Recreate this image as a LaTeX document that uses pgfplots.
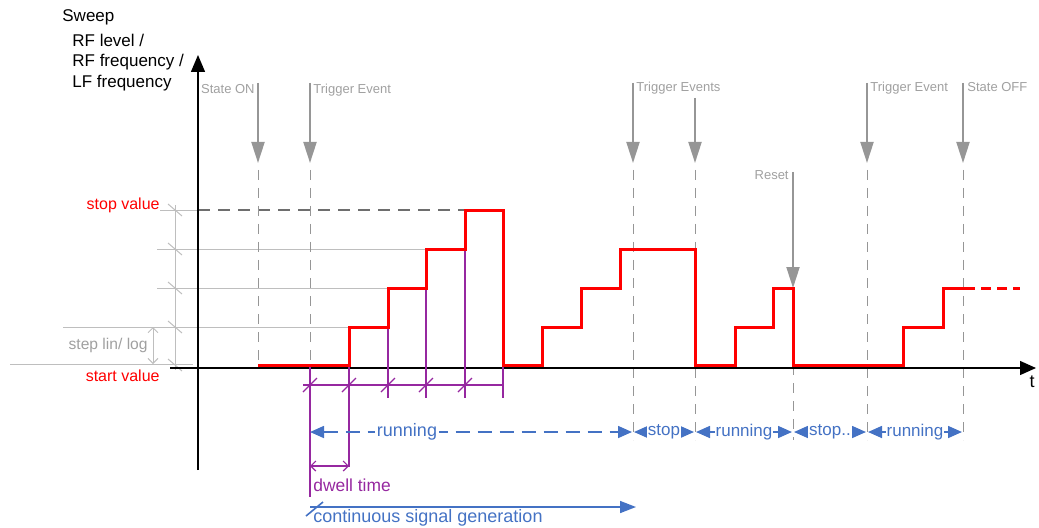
\documentclass[border=0pt]{standalone}
\usepackage{pgfplots}
\pgfplotsset{compat=1.18}
\usepackage{fontspec}
\setmainfont{Liberation Sans}
\usetikzlibrary{arrows.meta}
\definecolor{sigred}{RGB}{255,0,0}
\definecolor{trig}{RGB}{150,150,150}
\definecolor{trigtext}{RGB}{160,160,160}
\definecolor{guide}{RGB}{190,190,190}
\definecolor{dimgray}{RGB}{110,110,110}
\definecolor{runblue}{RGB}{68,114,196}
\definecolor{dwell}{RGB}{150,40,160}

\begin{document}
\begin{tikzpicture}
\begin{axis}[
  width=519.5pt, height=263.5pt, scale only axis,
  xmin=0, xmax=1039, ymin=0, ymax=527, y dir=reverse,
  hide axis, clip=false,
  trigarrow/.style={trig, line width=1pt, -{Triangle[length=10.5pt,width=6.5pt]}},
  trigline/.style={trig, line width=0.5pt, dash pattern=on 5pt off 4pt},
  guideline/.style={guide, line width=0.5pt},
  purp/.style={dwell, line width=0.6pt},
  blu/.style={runblue, line width=0.8pt},
  bothtips/.style={{Triangle[length=7pt,width=6pt]}-{Triangle[length=7pt,width=6pt]}},
]
% page frame
\addplot[draw=none] coordinates {(0,0)(1039,527)};

% guide lines (levels)
\addplot[guideline] coordinates {(10,364)(193,364)};
\addplot[guideline] coordinates {(63,327)(349,327)};
\addplot[guideline] coordinates {(157,288)(388,288)};
\addplot[guideline] coordinates {(157,249)(426,249)};
\addplot[guideline] coordinates {(160,210)(198,210)};
\addplot[dimgray, line width=0.6pt, dash pattern=on 6pt off 4pt] coordinates {(198,210)(480,210)};
\addplot[guideline] coordinates {(175,205)(175,370)};
\addplot[guideline] coordinates {(168,204)(182,216)};
\addplot[guideline] coordinates {(168,243)(182,255)};
\addplot[guideline] coordinates {(168,282)(182,294)};
\addplot[guideline] coordinates {(168,321)(182,333)};
\addplot[guideline] coordinates {(168,359)(182,371)};
\addplot[guideline, {Straight Barb[length=2.5pt]}-{Straight Barb[length=2.5pt]}] coordinates {(153,327)(153,364)};

% trigger arrows
\addplot[trigarrow] coordinates {(258,83)(258,163)};
\addplot[trigarrow] coordinates {(310,83)(310,163)};
\addplot[trigarrow] coordinates {(633,83)(633,163)};
\addplot[trigarrow] coordinates {(695,98)(695,163)};
\addplot[trigarrow] coordinates {(867,83)(867,163)};
\addplot[trigarrow] coordinates {(963,83)(963,163)};
\addplot[trigarrow] coordinates {(793,172)(793,288)};

% dashed event lines
\addplot[trigline] coordinates {(258,170)(258,367)};
\addplot[trigline] coordinates {(310,170)(310,367)};
\addplot[trigline] coordinates {(633,170)(633,440)};
\addplot[trigline] coordinates {(695,170)(695,440)};
\addplot[trigline] coordinates {(793,365)(793,440)};
\addplot[trigline] coordinates {(867,170)(867,440)};
\addplot[trigline] coordinates {(963,170)(963,440)};

% axes
\addplot[black, line width=0.7pt, -{Triangle[length=8.5pt,width=7pt]}] coordinates {(198,470)(198,55)};
\addplot[black, line width=0.7pt, -{Triangle[length=8pt,width=7pt]}] coordinates {(170,368)(1036,368)};

% dwell time marks
\addplot[purp] coordinates {(310,367)(310,497)};
\addplot[purp] coordinates {(349,367)(349,467)};
\addplot[purp] coordinates {(388,288)(388,398)};
\addplot[purp] coordinates {(426,249)(426,398)};
\addplot[purp] coordinates {(465,210)(465,398)};
\addplot[purp] coordinates {(503,365)(503,398)};
\addplot[purp] coordinates {(303,385)(503,385)};
\addplot[purp] coordinates {(303,392)(317,378)};
\addplot[purp] coordinates {(342,392)(356,378)};
\addplot[purp] coordinates {(381,392)(395,378)};
\addplot[purp] coordinates {(419,392)(433,378)};
\addplot[purp] coordinates {(458,392)(472,378)};
\addplot[purp, {Straight Barb[length=2.5pt]}-{Straight Barb[length=2.5pt]}] coordinates {(310,466)(349,466)};

% signal
\addplot[sigred, line width=1.5pt, line join=miter] coordinates {
(258,365)(349,365)(349,327)(388,327)(388,288)(426,288)(426,249)(465,249)
(465,210)(503,210)(503,365)(542,365)(542,327)(581,327)(581,288)(620,288)
(620,249)(695,249)(695,365)(735,365)(735,327)(773,327)(773,288)(793,288)
(793,365)(903,365)(903,327)(943,327)(943,288)(965,288)};
\addplot[sigred, line width=1.5pt, dash pattern=on 5pt off 3pt] coordinates {(965,288)(1020,288)};

% running / stop row
\addplot[blu, dash pattern=on 7pt off 4pt, bothtips] coordinates {(310,432)(632,432)};
\addplot[blu, bothtips] coordinates {(634,432)(694,432)};
\addplot[blu, bothtips] coordinates {(696,432)(792,432)};
\addplot[blu, bothtips] coordinates {(794,432)(866,432)};
\addplot[blu, bothtips] coordinates {(868,432)(962,432)};
\addplot[blu, -{Triangle[length=8pt,width=6pt]}] coordinates {(310,507)(636,507)};
\addplot[blu] coordinates {(306,516)(323,502)};

% texts
\begin{scope}[every node/.style={inner sep=0pt}]
\node[anchor=west, font=\fontsize{8.5}{10}\selectfont] at (axis cs:62,17) {Sweep};
\node[anchor=west, font=\fontsize{8.5}{10}\selectfont] at (axis cs:72,40) {RF level /};
\node[anchor=west, font=\fontsize{8.5}{10}\selectfont] at (axis cs:72,62) {RF frequency /};
\node[anchor=west, font=\fontsize{8.5}{10}\selectfont] at (axis cs:72,83) {LF frequency};
\node[anchor=east, text=sigred, font=\fontsize{8}{10}\selectfont] at (axis cs:160,205) {stop value};
\node[anchor=east, text=sigred, font=\fontsize{8}{10}\selectfont] at (axis cs:160,376) {start value};
\node[anchor=east, text=trigtext, font=\fontsize{7.8}{10}\selectfont] at (axis cs:148,345) {step lin/ log};
\node[anchor=north east, text=trigtext, font=\fontsize{6.5}{8}\selectfont] at (axis cs:255,84) {State ON};
\node[anchor=north west, text=trigtext, font=\fontsize{6.5}{8}\selectfont] at (axis cs:313,84) {Trigger Event};
\node[anchor=north west, text=trigtext, font=\fontsize{6.5}{8}\selectfont] at (axis cs:636,82) {Trigger Events};
\node[anchor=north west, text=trigtext, font=\fontsize{6.5}{8}\selectfont] at (axis cs:870,82) {Trigger Event};
\node[anchor=north west, text=trigtext, font=\fontsize{6.5}{8}\selectfont] at (axis cs:967,82) {State OFF};
\node[anchor=north east, text=trigtext, font=\fontsize{6.5}{8}\selectfont] at (axis cs:789,170) {Reset};
\node[font=\fontsize{9}{10}\selectfont] at (axis cs:1032,382) {t};
\node[fill=white, inner sep=1pt, text=runblue, font=\fontsize{9}{10}\selectfont] at (axis cs:407,432) {running};
\node[fill=white, inner sep=0.5pt, text=runblue, font=\fontsize{8.5}{10}\selectfont] at (axis cs:664,432) {stop};
\node[fill=white, inner sep=0.5pt, text=runblue, font=\fontsize{8.5}{10}\selectfont] at (axis cs:744,432) {running};
\node[fill=white, inner sep=0.5pt, text=runblue, font=\fontsize{8.5}{10}\selectfont] at (axis cs:830,432) {stop..};
\node[fill=white, inner sep=0.5pt, text=runblue, font=\fontsize{8.5}{10}\selectfont] at (axis cs:915,432) {running};
\node[anchor=west, text=dwell, font=\fontsize{8.7}{10}\selectfont] at (axis cs:313,485) {dwell time};
\node[anchor=west, text=runblue, font=\fontsize{9}{10}\selectfont] at (axis cs:313,518) {continuous signal generation};
\end{scope}
\end{axis}
\end{tikzpicture}
\end{document}
